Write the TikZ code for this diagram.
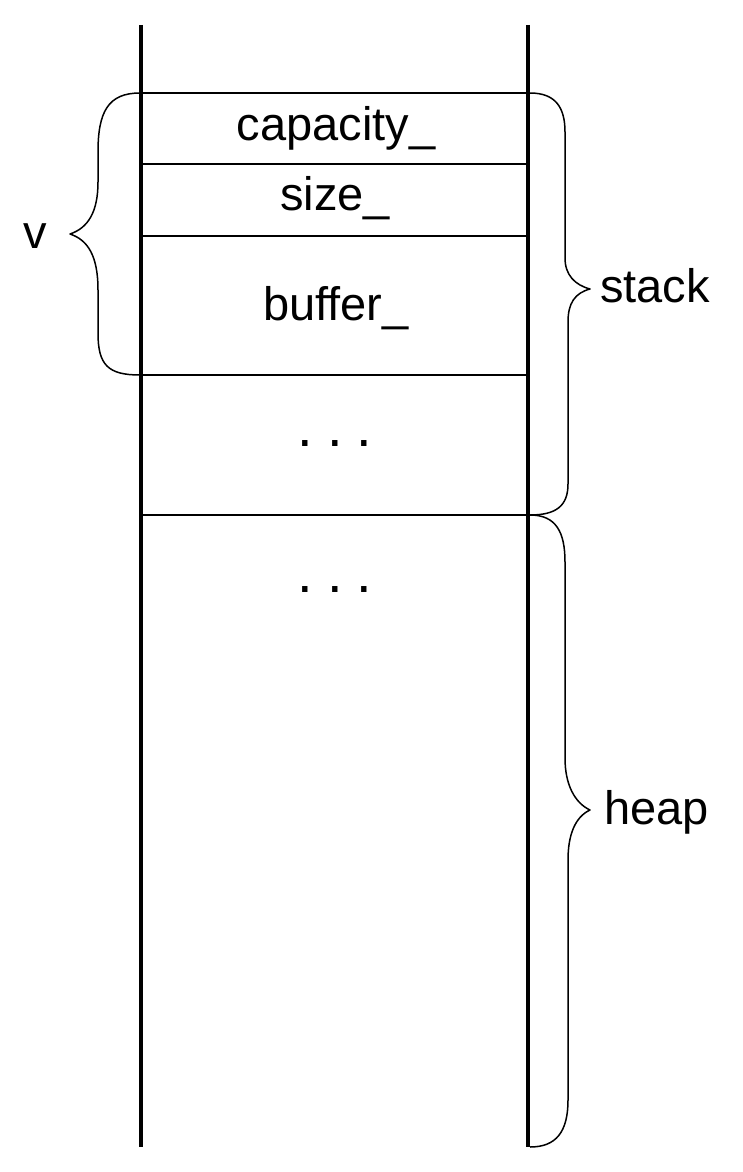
\documentclass[tikz,border=0pt]{standalone}
\usepackage{fontspec}
\setmainfont{Liberation Sans}
\begin{document}
\begin{tikzpicture}[x=1pt,y=-1pt,
  wall/.style={line width=4pt},
  sep/.style={line width=2pt},
  brace/.style={line width=1.5pt, line join=round},
  lbl/.style={font=\fontsize{47}{50}\selectfont, inner sep=0pt, anchor=base},
  dots/.style={font=\fontsize{56}{60}\selectfont, inner sep=0pt, anchor=base},
  side/.style={lbl, anchor=base west}]
\useasboundingbox (0,0) rectangle (742,1172);
% walls
\coordinate (lt) at (141,25); \coordinate (lb) at (141,1147);
\coordinate (rt) at (528,25); \coordinate (rb) at (528,1147);
\draw[wall] (lt) -- (lb);
\draw[wall] (rt) -- (rb);
% separators
\foreach \y/\n in {93/a,164/b,236/c,375/d,515/e}{
  \coordinate (s\n l) at (141,\y); \coordinate (s\n r) at (528,\y);
  \draw[sep] (s\n l) -- (s\n r);
}
% cell labels
\node[lbl] (cap) at (336,140) {capacity\_};
\node[lbl] (siz) at (335,210) {size\_};
\node[lbl] (buf) at (336,320) {buffer\_};
\node[dots] (dot1) at (335,446) {.\hspace{14pt}.\hspace{14pt}.};
\node[dots] (dot2) at (335,592) {.\hspace{14pt}.\hspace{14pt}.};
% left brace (v)
\draw[brace] (140,93) .. controls (108,93) and (98,112) .. (98,152) -- (98,182)
  .. controls (98,212) and (88,228) .. (70,234)
  .. controls (88,240) and (98,256) .. (98,290) -- (98,333)
  .. controls (98,365) and (108,375) .. (140,375);
\node[lbl] (v) at (35,248) {v};
% stack brace
\draw[brace] (530,93) .. controls (556,93) and (565,108) .. (565,132) -- (565,258)
  .. controls (565,275) and (575,285) .. (590,289)
  .. controls (575,293) and (568,303) .. (568,322) -- (568,484)
  .. controls (568,506) and (556,515) .. (530,515);
\node[side] (stack) at (600,302) {stack};
% heap brace
\draw[brace] (530,515) .. controls (556,515) and (565,532) .. (565,562) -- (565,758)
  .. controls (565,785) and (575,803) .. (590,810)
  .. controls (575,817) and (568,835) .. (568,860) -- (568,1100)
  .. controls (568,1132) and (556,1147) .. (530,1147);
\node[side] (heap) at (604,824) {heap};
\end{tikzpicture}
\end{document}
